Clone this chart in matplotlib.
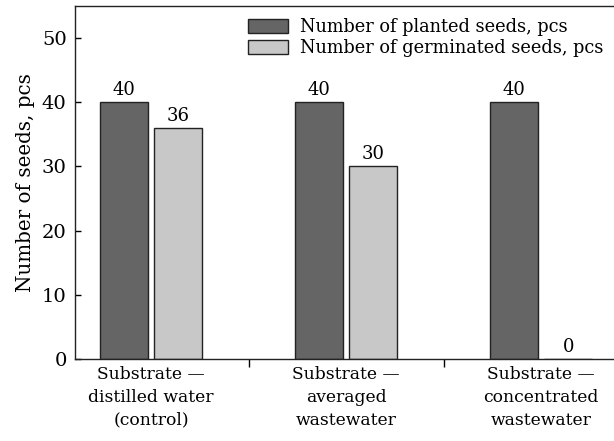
import matplotlib.pyplot as plt
import numpy as np

plt.rcParams['font.family'] = ['DejaVu Serif']
plt.rcParams['font.size'] = 13

groups = ["Substrate —\ndistilled water\n(control)",
          "Substrate —\naveraged\nwastewater",
          "Substrate —\nconcentrated\nwastewater"]
planted = [40, 40, 40]
germinated = [36, 30, 0]
series_names = ["Number of planted seeds, pcs", "Number of germinated seeds, pcs"]

fig = plt.figure(figsize=(6.14, 4.41), dpi=100)
ax = fig.add_axes([0.1221, 0.1859, 0.8836, 0.8005])

x = np.arange(len(groups))
w = 0.246
off = 0.138
b1 = ax.bar(x - off, planted, w, color="#656565", edgecolor="#222222", linewidth=1, label=series_names[0])
b2 = ax.bar(x + off, germinated, w, color="#c8c8c8", edgecolor="#222222", linewidth=1, label=series_names[1])

for bars, vals in ((b1, planted), (b2, germinated)):
    for r, v in zip(bars, vals):
        ax.text(r.get_x() + r.get_width() / 2, v + 0.5, str(v), ha="center", va="bottom", fontsize=13)

ax.set_xlim(-0.391, 2.391)
ax.set_ylim(0, 55)
ax.set_yticks([0, 10, 20, 30, 40, 50])
ax.tick_params(axis="y", direction="in", length=4, width=1, labelsize=14, pad=6)
ax.set_xticks([0.5, 1.5])
ax.set_xticklabels([])
ax.tick_params(axis="x", which="major", direction="out", length=6, width=1)
ax.set_xticks(x, minor=True)
ax.set_xticklabels(groups, minor=True, linespacing=1.45, fontsize=12.3)
ax.tick_params(axis="x", which="minor", length=0, pad=5)
ax.set_ylabel("Number of seeds, pcs", fontsize=14.3, labelpad=5)

for s in ax.spines.values():
    s.set_linewidth(1)
    s.set_color("#222222")

ax.legend(loc="upper right", bbox_to_anchor=(0.997, 1.0), frameon=False, fontsize=12.8,
          handlelength=2.25, handleheight=0.85, handletextpad=0.7, labelspacing=0.15,
          borderaxespad=0.3)

fig.savefig("out.png", dpi=100)
